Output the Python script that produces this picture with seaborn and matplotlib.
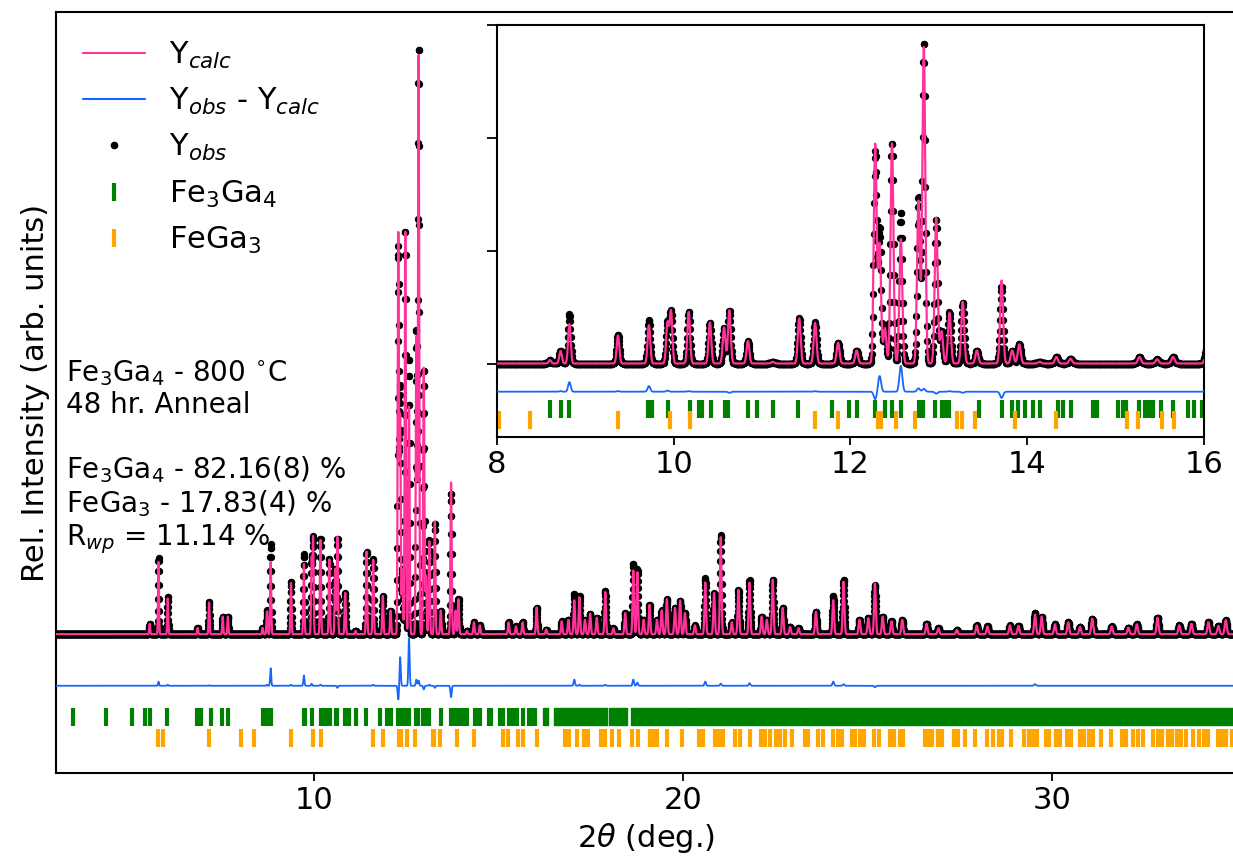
import numpy as np
import pandas as pd
import matplotlib
matplotlib.use("Agg")
import matplotlib.pyplot as plt
from matplotlib.lines import Line2D
import seaborn as sns

# Peak positions (2theta, deg.) with observed / calculated heights (counts)
peak_pos = [5.54, 5.78, 6.03, 6.84, 7.15, 7.52, 7.66, 8.60, 8.72, 8.82,
            9.37, 9.72, 9.93, 9.97, 10.17, 10.41, 10.57, 10.63, 10.84, 11.12,
            11.42, 11.60, 11.86, 12.07, 12.28, 12.33, 12.39, 12.47, 12.57, 12.77,
            12.83, 12.97, 13.03, 13.12, 13.27, 13.43, 13.71, 13.83, 13.91, 14.14,
            14.33, 14.49, 15.27, 15.47, 15.65, 16.03, 16.29, 16.71, 16.89, 17.05,
            17.19, 17.34, 17.48, 17.66, 17.89, 18.11, 18.43, 18.65, 18.76, 18.93,
            19.09, 19.29, 19.42, 19.56, 19.78, 19.92, 20.05, 20.32, 20.60, 20.84,
            21.02, 21.32, 21.50, 21.80, 22.13, 22.27, 22.43, 22.70, 22.90, 23.13,
            23.60, 24.07, 24.35, 24.78, 25.02, 25.20, 25.41, 25.65, 25.94, 26.60,
            26.92, 27.42, 27.96, 28.25, 28.86, 29.09, 29.54, 29.72, 30.08, 30.44,
            30.76, 31.09, 31.62, 32.07, 32.30, 32.86, 33.45, 33.78, 34.24, 34.51,
            34.71]
obs_counts = [100, 740, 360, 60, 315, 170, 170, 60, 230, 870,
              510, 780, 740, 930, 930, 730, 640, 930, 400, 30,
              800, 730, 370, 230, 3745, 2390, 630, 3930, 2680, 2960,
              5700, 2565, 570, 910, 1080, 230, 1370, 230, 340, 30,
              115, 85, 115, 75, 115, 260, 45, 125, 140, 390,
              370, 140, 200, 160, 420, 57, 205, 680, 630, 140,
              285, 140, 230, 340, 255, 325, 205, 85, 540, 400,
              960, 115, 430, 525, 170, 140, 530, 255, 70, 57,
              215, 370, 525, 140, 155, 475, 170, 125, 140, 100,
              57, 40, 85, 75, 85, 80, 205, 170, 95, 115,
              70, 150, 75, 63, 95, 160, 85, 100, 115, 80,
              135]
calc_counts = [100, 700, 350, 60, 310, 170, 170, 60, 220, 700,
               500, 680, 720, 930, 920, 730, 640, 950, 400, 30,
               800, 720, 370, 230, 3880, 2110, 630, 3930, 2220, 2900,
               5650, 2600, 570, 900, 1100, 230, 1480, 230, 340, 30,
               115, 85, 115, 75, 115, 260, 45, 125, 140, 330,
               360, 140, 200, 160, 410, 57, 205, 620, 600, 140,
               285, 140, 230, 340, 255, 325, 205, 85, 500, 400,
               940, 115, 430, 500, 170, 140, 530, 255, 70, 57,
               215, 330, 510, 140, 155, 490, 170, 125, 140, 100,
               57, 40, 85, 75, 85, 80, 190, 170, 95, 115,
               70, 150, 75, 63, 95, 160, 85, 100, 115, 80,
               135]

# Reflection markers
fe3ga4_ticks = [3.46, 4.36, 5.07, 5.40, 5.56, 6.02, 6.83, 6.94, 7.19, 7.51,
                7.66, 8.60, 8.73, 8.82, 9.71, 9.76, 9.94, 10.18, 10.29, 10.32,
                10.42, 10.58, 10.62, 10.84, 10.94, 11.12, 11.41, 11.79, 11.98, 12.07,
                12.28, 12.39, 12.47, 12.57, 12.77, 12.82, 12.96, 13.03, 13.08, 13.12,
                13.45, 13.71, 13.83, 13.90, 13.98, 14.06, 14.14, 14.35, 14.41, 14.50,
                14.74, 14.79, 15.03, 15.08, 15.12, 15.27, 15.33, 15.38, 15.42, 15.51,
                15.65, 15.82, 15.89, 15.98]
fe3ga4_bands = [(16.20, 16.35), (16.50, 17.93), (18.00, 18.47), (18.59, 20.19),
                (20.21, 23.17), (23.20, 35.00)]
fega3_ticks = [5.77, 5.91, 7.15, 8.02, 8.38, 9.37, 9.96, 10.19, 11.60, 11.86,
               12.31, 12.34, 12.52, 12.73, 13.21, 13.26, 13.41, 13.86, 14.32, 15.13,
               15.25, 15.52, 15.66, 16.03, 16.80, 16.92, 17.12, 17.30, 17.42, 17.77,
               17.89, 18.07, 18.25, 18.61, 18.79, 19.11, 19.20, 19.29, 19.56, 19.98,
               20.44, 20.53, 20.87, 20.98, 21.09, 21.41, 21.53, 21.82, 22.10, 22.22,
               22.36, 22.52, 22.63, 22.76, 22.94, 23.30, 23.39, 23.67, 23.79, 24.06,
               24.21, 24.30, 24.57, 24.66, 24.80, 24.91, 25.18, 25.30, 25.61, 25.72,
               25.88, 25.97, 26.56, 26.66, 26.76, 26.90, 27.02, 27.35, 27.46, 27.65,
               27.91, 28.25, 28.39, 28.56, 28.64, 28.88, 29.23, 29.38, 29.48, 29.59,
               29.83, 29.92, 30.10, 30.22, 30.40, 30.52, 30.76, 30.87, 31.00, 31.12,
               31.33, 31.61, 31.89, 32.00, 32.20, 32.34, 32.46, 32.75, 32.86, 32.97,
               33.15, 33.24, 33.38, 33.51, 33.63, 33.81, 33.98, 34.13, 34.24, 34.49,
               34.61, 34.72, 34.87]

legend_labels = ['Y$_{calc}$', 'Y$_{obs}$ - Y$_{calc}$', 'Y$_{obs}$',
                 'Fe$_3$Ga$_4$', 'FeGa$_3$']
info_text = ('Fe$_3$Ga$_4$ - 800 $^{\\circ}$C\n48 hr. Anneal\n\n'
             'Fe$_3$Ga$_4$ - 82.16(8) %\nFeGa$_3$ - 17.83(4) %\nR$_{wp}$ = 11.14 %')

PINK = '#ff3399'
BLUE = '#1466ff'
DIFF_OFFSET = -500
FE3GA4_Y = -800
FEGA3_Y = -1005


def profile(tt, heights):
    # gaussian peaks, width grows slowly with angle
    y = np.zeros_like(tt)
    for p, h in zip(peak_pos, heights):
        s = 0.010 + 0.0005 * p
        y += h * np.exp(-0.5 * ((tt - p) / s) ** 2)
    return y


def draw_pattern(ax, df, dot_size, bands=True):
    sns.scatterplot(data=df, x='tt', y='obs', ax=ax, color='black', s=dot_size,
                    linewidth=0, zorder=2, legend=False)
    sns.lineplot(data=df, x='tt', y='calc', ax=ax, color=PINK, lw=1.6,
                 estimator=None, sort=False, zorder=3, legend=False)
    sns.lineplot(data=df, x='tt', y='diff', ax=ax, color=BLUE, lw=1.3,
                 estimator=None, sort=False, zorder=3, legend=False)
    ax.plot(fe3ga4_ticks, [FE3GA4_Y] * len(fe3ga4_ticks), ls='none', marker='|',
            ms=13, mew=3, color='green', zorder=2)
    ax.plot(fega3_ticks, [FEGA3_Y] * len(fega3_ticks), ls='none', marker='|',
            ms=13, mew=3, color='orange', zorder=2)
    if bands:
        ax.broken_barh([(a, b - a) for a, b in fe3ga4_bands], (FE3GA4_Y - 85, 170),
                       color='green', zorder=2)
    ax.set_xlabel('')
    ax.set_ylabel('')


def main():
    sns.set_style("ticks")
    plt.rcParams['font.family'] = ['DejaVu Sans']
    for key in ['text.color', 'axes.labelcolor', 'xtick.color', 'ytick.color',
                'axes.edgecolor']:
        plt.rcParams[key] = 'black'
    plt.rcParams['axes.linewidth'] = 1.5
    plt.rcParams['xtick.major.width'] = 1.3
    plt.rcParams['ytick.major.width'] = 1.3
    plt.rcParams['xtick.major.size'] = 6
    plt.rcParams['ytick.major.size'] = 7

    tt = np.arange(3.0, 35.0, 0.004)
    obs = profile(tt, obs_counts)
    calc = profile(tt, calc_counts)
    df = pd.DataFrame({'tt': tt, 'obs': obs, 'calc': calc,
                       'diff': obs - calc + DIFF_OFFSET})

    fig = plt.figure(figsize=(12.33, 8.65), dpi=100)
    ax = fig.add_axes([0.0454, 0.1064, 0.9574, 0.8798])
    draw_pattern(ax, df, 28)
    ax.set_xlim(3, 35)
    ax.set_ylim(-1345, 6030)
    ax.set_xticks([10, 20, 30])
    ax.set_yticks([])
    ax.tick_params(axis='x', labelsize=22)
    ax.set_xlabel('2$\\theta$ (deg.)', fontsize=22)
    ax.set_ylabel('Rel. Intensity (arb. units)', fontsize=22)

    handles = [Line2D([], [], color=PINK, lw=1.5),
               Line2D([], [], color=BLUE, lw=1.5),
               Line2D([], [], ls='none', marker='o', ms=4.5, color='black'),
               Line2D([], [], ls='none', marker='|', ms=13, mew=3, color='green'),
               Line2D([], [], ls='none', marker='|', ms=13, mew=3, color='orange')]
    ax.legend(handles, legend_labels, loc='upper left', frameon=False, fontsize=22)

    ax.text(0.0085, 0.545, info_text, transform=ax.transAxes, fontsize=20,
            va='top', ha='left', linespacing=1.15)

    ins = fig.add_axes([0.403, 0.495, 0.5735, 0.476])
    draw_pattern(ins, df, 28, bands=False)
    ins.set_xlim(8, 16)
    ins.set_ylim(-1300, 6000)
    ins.set_xticks([8, 10, 12, 14, 16])
    ins.set_yticks([0, 2000, 4000, 6000])
    ins.tick_params(axis='y', labelleft=False)
    ins.tick_params(axis='x', labelsize=22)

    fig.savefig('out.png', dpi=100)
    plt.close(fig)


if __name__ == '__main__':
    main()
